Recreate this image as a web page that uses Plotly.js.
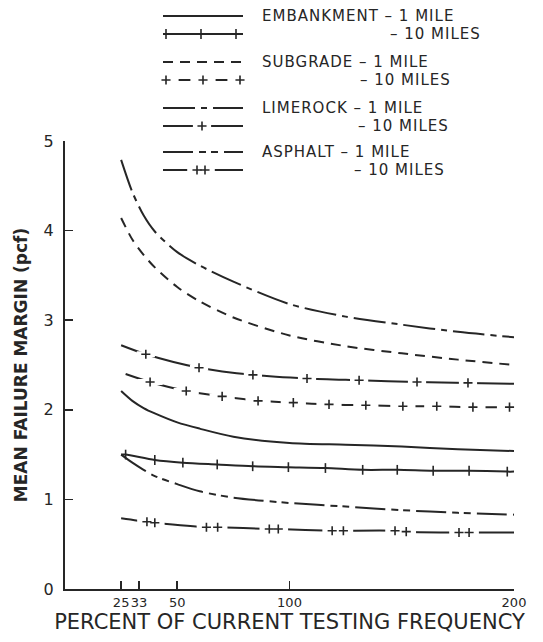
<!DOCTYPE html>
<html>
<head>
<meta charset="utf-8">
<script src="https://cdn.plot.ly/plotly-3.0.1.min.js"></script>
<style>
html,body{margin:0;padding:0;background:#fff;}
.annotation-text{letter-spacing:1px;}
</style>
</head>
<body>
<div id="chart" style="width:543px;height:642px;"></div>
<script>
// ---------------- DATA ----------------
const xTicks = [25, 33, 50, 100, 200];
const xTickText = ['25', '33', '50', '100', '200'];
const yTicks = [0, 1, 2, 3, 4, 5];

const materials = ['EMBANKMENT', 'SUBGRADE', 'LIMEROCK', 'ASPHALT'];
const distances = ['1 MILE', '10 MILES'];

// 1-mile curves (smooth)
const xSmooth = [25, 30, 35, 40, 50, 60, 75, 100, 125, 150, 175, 200];
const embankment1 = [2.21, 2.10, 2.02, 1.96, 1.86, 1.79, 1.70, 1.63, 1.61, 1.59, 1.56, 1.54];
const subgrade1   = [4.14, 3.90, 3.73, 3.59, 3.37, 3.21, 3.03, 2.83, 2.71, 2.63, 2.56, 2.50];
const limerock1   = [4.79, 4.43, 4.17, 3.99, 3.76, 3.61, 3.43, 3.18, 3.04, 2.95, 2.87, 2.81];
const asphalt1    = [1.50, 1.41, 1.33, 1.26, 1.17, 1.09, 1.02, 0.96, 0.92, 0.88, 0.85, 0.83];

// 10-mile curves (first and last entries are the line ends, the rest carry the marks)
const embankment10X = [25, 27, 40, 52.5, 67.8, 83.6, 99.5, 116, 132.6, 148, 164, 180, 197, 200];
const embankment10Y = [1.50, 1.50, 1.44, 1.41, 1.39, 1.37, 1.36, 1.35, 1.33, 1.33, 1.32, 1.32, 1.31, 1.31];
const subgrade10X = [27, 37.9, 54, 70, 86, 101.7, 117.6, 134, 150.5, 165.6, 181.7, 198, 200];
const subgrade10Y = [2.40, 2.31, 2.21, 2.15, 2.10, 2.08, 2.06, 2.05, 2.04, 2.04, 2.03, 2.03, 2.03];
const limerock10X = [25, 36, 59.7, 83.7, 107.8, 131, 156.8, 179.5, 200];
const limerock10Y = [2.72, 2.62, 2.47, 2.39, 2.35, 2.33, 2.31, 2.30, 2.29];
const asphalt10X = [25, 36.5, 40, 63, 68, 91, 95, 119, 124, 147, 152, 175.5, 180, 200];
const asphalt10Y = [0.79, 0.75, 0.74, 0.69, 0.69, 0.67, 0.67, 0.65, 0.65, 0.65, 0.64, 0.63, 0.63, 0.63];

// ---------------- STYLE ----------------
const ink = '#262626';
const FONT = 'DejaVu Sans';
const LW = 2;
// marker sizes: plotly line/cross symbols span 1.4 x size
const styles = {
  emb1: {dash: 'solid'},
  emb10: {dash: 'solid', mark: 'line-ns', markSize: 7, gap: 0},
  sub1: {dash: '10px,7px'},
  sub10: {dash: 'solid', mark: 'cross-thin', markSize: 6.5, gap: 18},
  lime1: {dash: '32px,6px,6px,6px'},
  lime10: {dash: 'solid', mark: 'cross-thin', markSize: 6.5, gap: 13},
  asph1: {dash: '30px,6px,7px,5px,7px,6px'},
  asph10: {dash: 'solid', mark: 'cross-thin', markSize: 6.5, gap: 14}
};

const traces = [];

function addSeries(x, y, st, xa, ya, markX, markY) {
  traces.push({
    type: 'scatter', mode: 'lines', x: x, y: y, xaxis: xa, yaxis: ya,
    line: {color: ink, width: LW, dash: st.dash, shape: 'spline', smoothing: 0.8},
    hoverinfo: 'skip', cliponaxis: false
  });
  if (st.mark && markX && markX.length) {
    if (st.gap > 0) {
      traces.push({
        type: 'scatter', mode: 'markers', x: markX, y: markY, xaxis: xa, yaxis: ya,
        marker: {symbol: 'line-ew', size: st.gap, line: {color: '#ffffff', width: 6}},
        hoverinfo: 'skip', cliponaxis: false
      });
    }
    traces.push({
      type: 'scatter', mode: 'markers', x: markX, y: markY, xaxis: xa, yaxis: ya,
      marker: {symbol: st.mark, size: st.markSize, color: ink, line: {color: ink, width: 1.6}},
      hoverinfo: 'skip', cliponaxis: false
    });
  }
}

function inner(a) { return a.slice(1, -1); }

// main chart
addSeries(xSmooth, embankment1, styles.emb1, 'x', 'y');
addSeries(xSmooth, subgrade1, styles.sub1, 'x', 'y');
addSeries(xSmooth, limerock1, styles.lime1, 'x', 'y');
addSeries(xSmooth, asphalt1, styles.asph1, 'x', 'y');
addSeries(embankment10X, embankment10Y, styles.emb10, 'x', 'y', inner(embankment10X), inner(embankment10Y));
addSeries(subgrade10X, subgrade10Y, styles.sub10, 'x', 'y', inner(subgrade10X), inner(subgrade10Y));
addSeries(limerock10X, limerock10Y, styles.lime10, 'x', 'y', inner(limerock10X), inner(limerock10Y));
addSeries(asphalt10X, asphalt10Y, styles.asph10, 'x', 'y', inner(asphalt10X), inner(asphalt10Y));

// ---------------- LEGEND (pixel-space overlay axes) ----------------
const legX0 = 163, legX1 = 243, legTextX = 260;
const legRowsY = [[16, 34], [62, 80], [108, 126], [152, 170]];
const legSecondX = [388, 358, 356, 352];
const legStyles = [[styles.emb1, styles.emb10], [styles.sub1, styles.sub10], [styles.lime1, styles.lime10], [styles.asph1, styles.asph10]];
const legMarks = [[null, [166, 201, 236]], [null, [166, 203, 240]], [null, [202]], [null, [197, 205]]];

const annotations = [];
materials.forEach((m, i) => {
  for (let r = 0; r < 2; r++) {
    const yy = legRowsY[i][r];
    const mk = legMarks[i][r];
    addSeries([legX0, legX1], [yy, yy], legStyles[i][r], 'x2', 'y2',
      mk, mk ? mk.map(() => yy) : null);
  }
  annotations.push({
    xref: 'x2', yref: 'y2', x: legTextX, y: legRowsY[i][0], xanchor: 'left', yanchor: 'middle',
    text: m + ' \u2013 ' + distances[0], showarrow: false,
    font: {family: FONT, size: 15, color: ink}
  });
  annotations.push({
    xref: 'x2', yref: 'y2', x: legSecondX[i], y: legRowsY[i][1], xanchor: 'left', yanchor: 'middle',
    text: '\u2013 ' + distances[1], showarrow: false,
    font: {family: FONT, size: 15, color: ink}
  });
});

const layout = {
  width: 543, height: 642,
  margin: {l: 65, r: 29, t: 0, b: 53},
  paper_bgcolor: '#ffffff', plot_bgcolor: 'rgba(0,0,0,0)',
  showlegend: false,
  xaxis: {
    domain: [0, 1], anchor: 'y', range: [0, 200],
    tickmode: 'array', tickvals: xTicks, ticktext: xTickText, tickangle: 0,
    ticks: 'inside', ticklen: 8, tickwidth: 1.6, tickcolor: ink,
    showline: true, linecolor: ink, linewidth: 2,
    showgrid: false, zeroline: false, automargin: false,
    tickfont: {family: FONT, size: 13, color: ink},
    title: {text: 'PERCENT OF CURRENT TESTING FREQUENCY', font: {family: FONT, size: 21, color: ink}, standoff: 3}
  },
  yaxis: {
    domain: [0, 448 / 589], anchor: 'x', range: [0, 5],
    tickmode: 'array', tickvals: yTicks,
    ticks: 'inside', ticklen: 8, tickwidth: 1.6, tickcolor: ink,
    showline: true, linecolor: ink, linewidth: 2,
    showgrid: false, zeroline: false, automargin: false,
    ticklabelstandoff: 6,
    tickfont: {family: FONT, size: 16, color: ink},
    title: {text: 'MEAN FAILURE MARGIN (pcf)', font: {family: FONT, size: 17, color: ink, weight: 'bold'}, standoff: 12}
  },
  xaxis2: {domain: [0, 1], anchor: 'y2', range: [65, 514], visible: false, fixedrange: true},
  yaxis2: {domain: [0, 1], anchor: 'x2', range: [589, 0], visible: false, fixedrange: true},
  annotations: annotations
};

Plotly.newPlot('chart', traces, layout, {staticPlot: true, displayModeBar: false});
</script>
</body>
</html>
